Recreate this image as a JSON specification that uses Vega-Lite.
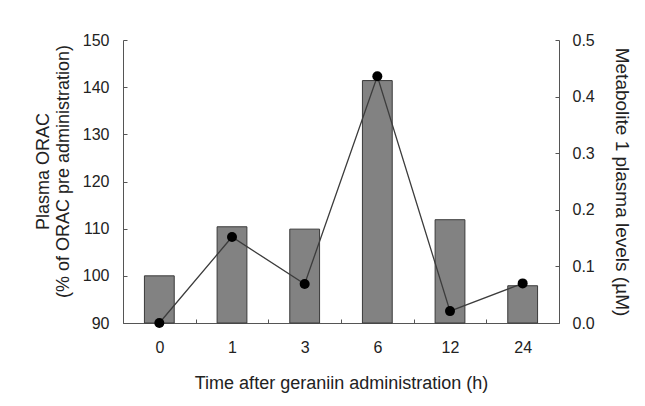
{
  "$schema": "https://vega.github.io/schema/vega-lite/v6.json",
  "autosize": {"type": "none"},
  "width": 436,
  "height": 283,
  "padding": {"left": 123, "top": 40, "right": 86, "bottom": 83},
  "background": "white",
  "config": {
    "font": "Liberation Sans",
    "view": {"stroke": null},
    "axis": {
      "labelFont": "Liberation Sans",
      "titleFont": "Liberation Sans",
      "labelFontSize": 16,
      "titleFontSize": 18,
      "titleFontWeight": "normal",
      "labelColor": "#222",
      "titleColor": "#222",
      "domainColor": "#555",
      "tickColor": "#555",
      "grid": false
    }
  },
  "data": {
    "values": [
      {"time": "0", "orac": 100.0, "metabolite": 0.0},
      {"time": "1", "orac": 110.4, "metabolite": 0.152},
      {"time": "3", "orac": 109.9, "metabolite": 0.069},
      {"time": "6", "orac": 141.4, "metabolite": 0.436},
      {"time": "12", "orac": 111.9, "metabolite": 0.021},
      {"time": "24", "orac": 97.9, "metabolite": 0.070}
    ]
  },
  "encoding": {
    "x": {
      "field": "time",
      "type": "ordinal",
      "sort": null,
      "scale": {"paddingInner": 0, "paddingOuter": 0},
      "axis": {
        "title": "Time after geraniin administration (h)",
        "labelAngle": 0,
        "tickBand": "extent",
        "tickSize": -4,
        "labelPadding": 20,
        "titlePadding": 19
      }
    }
  },
  "layer": [
    {
      "mark": {"type": "bar", "width": {"band": 0.41}, "fill": "#828282", "stroke": "#3a3a3a", "strokeWidth": 1},
      "encoding": {
        "y": {
          "field": "orac",
          "type": "quantitative",
          "scale": {"domain": [90, 150], "zero": false, "nice": false},
          "axis": {
            "title": ["Plasma ORAC", "(% of ORAC pre administration)"],
            "values": [90, 100, 110, 120, 130, 140, 150],
            "tickSize": -4,
            "labelPadding": 18,
            "titlePadding": 10,
            "titleLineHeight": 20,
            "titleY": 131
          }
        },
        "y2": {"datum": 90}
      }
    },
    {
      "encoding": {
        "y": {
          "field": "metabolite",
          "type": "quantitative",
          "scale": {"domain": [0, 0.5], "nice": false},
          "axis": {
            "orient": "right",
            "title": "Metabolite 1 plasma levels (µM)",
            "values": [0, 0.1, 0.2, 0.3, 0.4, 0.5],
            "format": ".1f",
            "tickSize": -4,
            "labelPadding": 17,
            "titlePadding": 17,
            "titleFontSize": 19
          }
        }
      },
      "layer": [
        {"mark": {"type": "line", "color": "#3c3c3c", "strokeWidth": 1.3}},
        {"mark": {"type": "point", "filled": true, "color": "#000", "size": 100, "opacity": 1}}
      ]
    }
  ],
  "resolve": {"scale": {"y": "independent"}}
}
